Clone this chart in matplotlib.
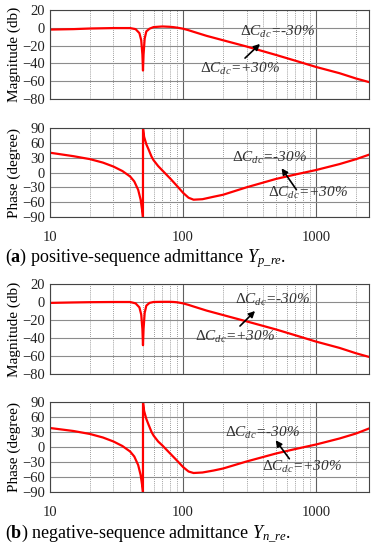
import matplotlib
matplotlib.use('Agg')
import matplotlib.pyplot as plt
import numpy as np

plt.rcParams['font.family'] = 'Liberation Serif'
plt.rcParams['mathtext.fontset'] = 'custom'
plt.rcParams['mathtext.rm'] = 'Liberation Serif'
plt.rcParams['mathtext.it'] = 'Liberation Serif:italic'
plt.rcParams['mathtext.bf'] = 'Liberation Serif:bold'

# frequency points (Hz)
f_mag = [10, 15, 20, 30, 40, 44, 47, 48.5, 49.5, 50, 50.5, 51.5, 53, 56, 60, 70, 80, 85, 90,
         100, 110, 120, 150, 200, 300, 500, 700, 1000, 1500, 2000, 2500]
mag_a = [-2, -1.5, -0.8, -0.3, -0.3, -1.5, -6, -14, -30, -48, -30, -12, -4, -1, 0.8, 1.5, 1.1, 0.7, 0.2,
         -1, -2.7, -4.5, -9, -14, -21, -30.5, -37, -44, -51, -57, -61]
mag_b = [-1, -0.5, -0.2, 0, 0, -1.5, -6, -14, -30, -48, -30, -12, -4, -1, 0, 0.2, 0.2, 0, -0.3,
         -1.5, -3.2, -5, -9.5, -14.5, -21.5, -30.5, -37, -44, -51, -57, -61]

f_ph = [10, 15, 20, 25, 30, 35, 40, 43, 46, 48, 49.5, 49.97, 50.03, 51, 53, 55, 58, 60, 65, 70,
        80, 90, 100, 110, 120, 140, 170, 200, 300, 500, 700, 1000, 1500, 2000, 2500]
ph_a = [40, 33, 27, 20, 12, 3, -8, -18, -35, -55, -80, -90, 90, 72, 57, 47, 32, 25, 13, 4,
        -12, -27, -41, -51, -55, -54, -49, -45, -30, -13, -4, 5, 17, 27, 36]
ph_b = [38, 32, 26, 19, 11, 2, -9, -19, -36, -56, -80, -90, 90, 72, 56, 45, 30, 23, 11, 3,
        -13, -27, -40, -49, -52, -51, -47, -43, -29, -13, -4, 5, 17, 27, 37]

label_neg = r'$\Delta C_{dc}$=-30%'
label_pos = r'$\Delta C_{dc}$=+30%'

W, H = 377, 550
fig = plt.figure(figsize=(W / 100, H / 100), dpi=100)


def add_ax(top, bottom):
    return fig.add_axes([50 / W, 1 - bottom / H, 319 / W, (bottom - top) / H])


def style(ax, ylim, yticks, ylabel, xlabels):
    ax.set_xscale('log')
    ax.set_xlim(10, 2500)
    ax.set_ylim(*ylim)
    ax.set_yticks(yticks)
    ax.grid(True, which='major', axis='y', color='#8c8c8c', lw=0.8, ls='-')
    ax.grid(True, which='major', axis='x', color='#606060', lw=0.8, ls='-')
    ax.grid(True, which='minor', axis='x', color='#7c7c7c', lw=0.6, ls=(0, (1, 1.5)))
    ax.tick_params(which='both', length=0, labelsize=10.5, colors='#222222')
    ax.tick_params(axis='x', pad=10)
    ax.set_ylabel(ylabel, fontsize=11, labelpad=1)
    if xlabels:
        ax.set_xticks([10, 100, 1000])
        ax.set_xticklabels(['10', '100', '1000'])
    else:
        ax.set_xticklabels([])
    ax.xaxis.set_minor_formatter(matplotlib.ticker.NullFormatter())
    for s in ax.spines.values():
        s.set_color('#444444')
        s.set_linewidth(0.8)


def annotate(neg_xy, pos_xy, arr_from, arr_to):
    # positions given in figure pixels
    kw = dict(transform=fig.transFigure, fontsize=11, style='italic', color='#333333',
              va='center', ha='left')
    fig.text(neg_xy[0] / W, 1 - neg_xy[1] / H, label_neg, **kw)
    fig.text(pos_xy[0] / W, 1 - pos_xy[1] / H, label_pos, **kw)
    fig.add_artist(matplotlib.patches.FancyArrowPatch(
        (arr_from[0] / W, 1 - arr_from[1] / H), (arr_to[0] / W, 1 - arr_to[1] / H),
        transform=fig.transFigure, arrowstyle='-|>', mutation_scale=9, color='black', lw=1.2))


panels = [
    (10, 99, 128, 217, mag_a, ph_a),
    (284, 374, 402, 492, mag_b, ph_b),
]
for mt, mb, pt, pb, mag, ph in panels:
    ax1 = add_ax(mt, mb)
    ax1.plot(f_mag, mag, color='red', lw=1.6)
    style(ax1, (-80, 20), np.arange(-80, 21, 20), 'Magnitude (db)', False)
    ax2 = add_ax(pt, pb)
    ax2.plot(f_ph, ph, color='red', lw=1.6)
    style(ax2, (-90, 90), np.arange(-90, 91, 30), 'Phase (degree)', True)

annotate((240, 32), (200, 69), (243, 60), (262, 42))
annotate((232, 158), (268, 193), (298, 192), (280, 166))
annotate((235, 300), (195, 337), (238, 328), (257, 309))
annotate((225, 433), (262, 467), (291, 461), (274, 438))

fig.text(5 / W, 1 - 258 / H, r'($\mathbf{a}$) positive-sequence admittance $Y_{p\_re}$.',
         fontsize=13, va='center', ha='left')
fig.text(5 / W, 1 - 534 / H, r'($\mathbf{b}$) negative-sequence admittance $Y_{n\_re}$.',
         fontsize=13, va='center', ha='left')

fig.savefig('out.png', dpi=100)
